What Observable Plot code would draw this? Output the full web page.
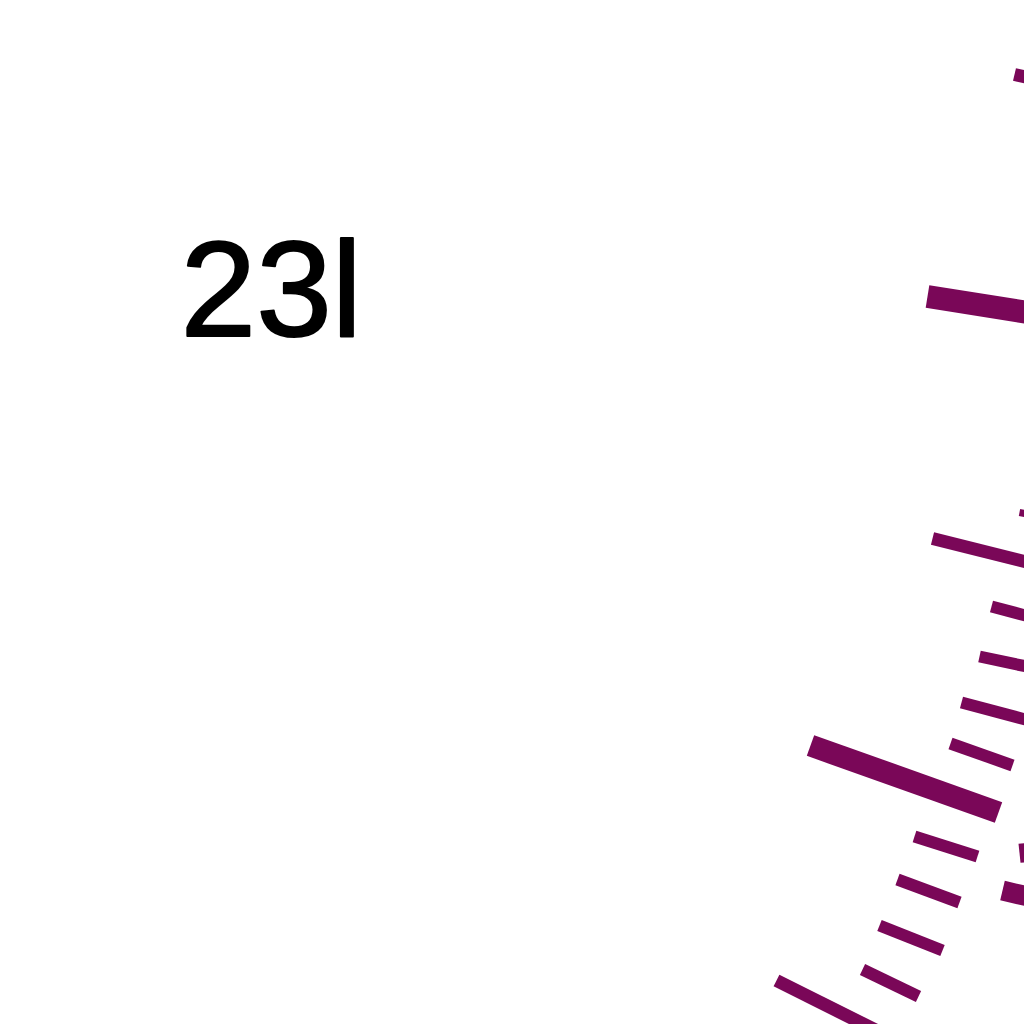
<!DOCTYPE html>
<html>
<head>
<meta charset="utf-8">
<script src="https://cdn.jsdelivr.net/npm/d3@7"></script>
<script src="https://cdn.jsdelivr.net/npm/@observablehq/plot@0.6"></script>
<style>
  body { margin: 0; background: white; }
</style>
</head>
<body>
<div id="chart"></div>
<script>
// segment start / end (data units) and weight of each stroke
const x1 = [1014, 927, 1019, 932, 991, 979, 961, 950, 810, 914, 1021, 1002, 897, 879, 862, 776];
const y1 = [74, 296, 512, 538, 606, 656, 702, 743, 745, 836, 843, 890, 879, 925, 969, 980];
const x2 = [1040, 1040, 1040, 1040, 1040, 1040, 1040, 1012, 998, 977, 1023, 1040, 959, 942, 918, 900];
const y2 = [80, 314, 516, 565, 619, 669, 723, 765, 812, 856, 862, 899, 902, 950, 996, 1042];
const weight = [13, 23, 7, 13, 12, 12, 12, 12, 22, 12, 6, 20, 12, 12, 12, 13];

// label
const labels = ['23l'];
const labelX = [180];
const labelY = [335];

const segs = x1.map((d, i) => ({x1: d, y1: y1[i], x2: x2[i], y2: y2[i], w: weight[i]}));
const texts = labels.map((t, i) => ({t, x: labelX[i], y: labelY[i]}));

let chart = Plot.plot({
  width: 1024,
  height: 1024,
  margin: 0,
  x: {domain: [0, 1024], range: [0, 1024], axis: null},
  y: {domain: [0, 1024], range: [0, 1024], axis: null},
  marks: [
    Plot.link(segs, {
      x1: 'x1', y1: 'y1', x2: 'x2', y2: 'y2',
      stroke: '#7a0758',
      strokeWidth: 'w',
      strokeLinecap: 'butt'
    }),
    Plot.text(texts, {
      x: 'x', y: 'y', text: 't',
      textAnchor: 'start',
      lineAnchor: 'bottom',
      fontSize: 136,
      fontFamily: 'Liberation Sans, Arial, sans-serif',
      stroke: 'black',
      strokeWidth: 2,
      fill: 'black'
    })
  ],
  style: {background: 'white'}
})

d3.select('#chart').append(() => chart)
</script>
</body>
</html>
